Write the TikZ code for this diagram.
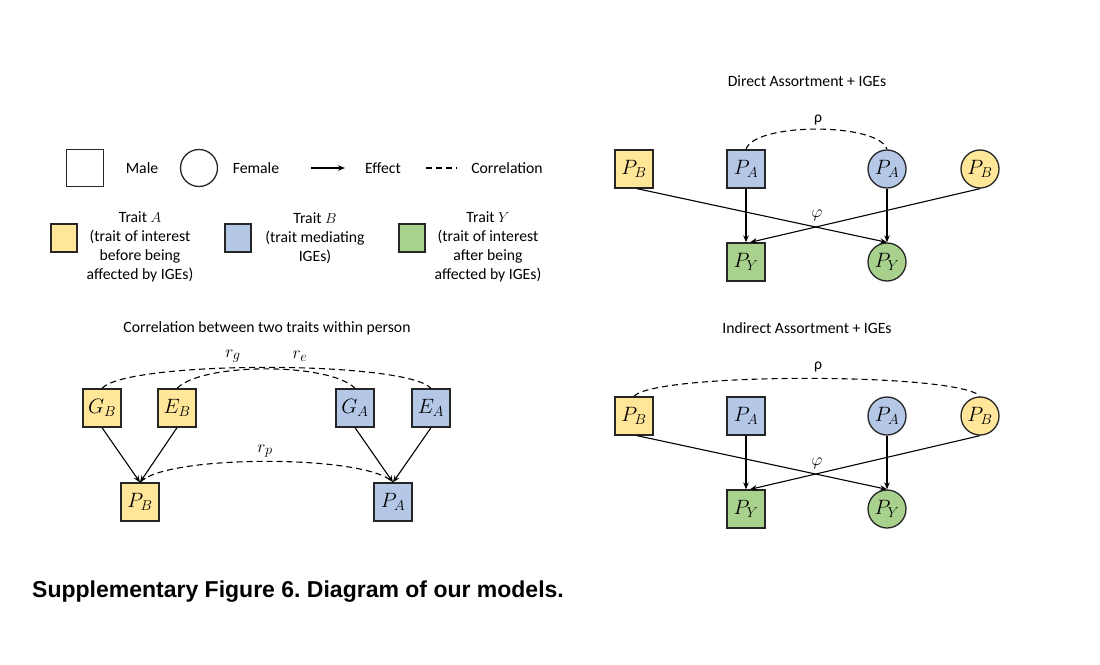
\documentclass[tikz,border=0pt]{standalone}
\usepackage{fontspec}
\setmainfont{Carlito}
\newfontfamily\capfont{Liberation Sans}
\usetikzlibrary{arrows.meta}
\definecolor{yel}{HTML}{FFE699}
\definecolor{blu}{HTML}{B4C7E7}
\definecolor{grn}{HTML}{A9D18E}
\definecolor{bord}{HTML}{262626}
\frenchspacing
\begin{document}
\begin{tikzpicture}[x=1pt,y=-1pt,
 txt/.style={font=\fontsize{15.7}{19}\selectfont, align=center, inner sep=0},
 sq/.style={draw=bord, line width=1.3pt, minimum size=38pt, inner sep=0, font=\fontsize{20}{22}\selectfont},
 ci/.style={circle, draw=bord, line width=1.3pt, minimum size=38pt, inner sep=0, font=\fontsize{20}{22}\selectfont},
 eff/.style={-{Stealth[length=7pt,width=5.5pt]}, line width=1.1pt, black},
 cor/.style={dash pattern=on 6pt off 4pt, line width=1.1pt},
 lab/.style={inner sep=0, font=\fontsize{19}{20}\selectfont},
]
\useasboundingbox (0,0) rectangle (1100,664);
\fill[white] (0,0) rectangle (1100,664);

% legend
\node[sq, minimum size=37pt] (lm) at (85,168) {};
\node[txt] (tm) at (142,168) {Male};
\node[ci, minimum size=37pt] (lf) at (199,168) {};
\node[txt] (tf) at (256,168) {Female};
\coordinate (ea) at (311,168); \coordinate (eb) at (345,168);
\draw[eff] (ea) -- (eb);
\node[txt] (te) at (383,168) {Effect};
\coordinate (ca) at (426,168); \coordinate (cb) at (457,168);
\draw[cor] (ca) -- (cb);
\node[txt] (tc) at (507,168) {Correlation};

\node[sq, fill=yel, minimum width=26pt, minimum height=28pt] (ly) at (64,238) {};
\node[txt] (tly) at (140,247) {Trait $A$\\(trait of interest\\before being\\affected by IGEs)};
\node[sq, fill=blu, minimum width=26pt, minimum height=28pt] (lb) at (238,238) {};
\node[txt] (tlb) at (315,238) {Trait $B$\\(trait mediating\\IGEs)};
\node[sq, fill=grn, minimum width=26pt, minimum height=28pt] (lg) at (412,238) {};
\node[txt] (tlg) at (488,247) {Trait $Y$\\(trait of interest\\after being\\affected by IGEs)};

% direct assortment
\node[txt] (t1) at (807,81) {Direct Assortment + IGEs};
\node[sq, fill=yel] (d1) at (634,169) {$P_B$};
\node[sq, fill=blu] (d2) at (746,169) {$P_A$};
\node[ci, fill=blu] (d3) at (887,169) {$P_A$};
\node[ci, fill=yel] (d4) at (980,169) {$P_B$};
\node[sq, fill=grn] (d5) at (746,262) {$P_Y$};
\node[ci, fill=grn] (d6) at (887,262) {$P_Y$};
\draw[eff] (d2) -- (d5);
\draw[eff] (d3) -- (d6);
\draw[eff] ([xshift=3pt]d1.south) -- (d6.north);
\draw[eff] (d4.south) -- ([xshift=4pt]d5.north);
\draw[cor] (d2.north) .. controls +(8,-27) and +(-8,-27) .. (d3.north);
\node[txt] (rho1) at (818,120) {ρ};
\node[lab] (phi1) at (817,215) {$\varphi$};

% indirect assortment
\node[txt] (t2) at (807,328) {Indirect Assortment + IGEs};
\node[sq, fill=yel] (i1) at (634,416) {$P_B$};
\node[sq, fill=blu] (i2) at (746,416) {$P_A$};
\node[ci, fill=blu] (i3) at (887,416) {$P_A$};
\node[ci, fill=yel] (i4) at (980,416) {$P_B$};
\node[sq, fill=grn] (i5) at (746,509) {$P_Y$};
\node[ci, fill=grn] (i6) at (887,509) {$P_Y$};
\draw[eff] (i2) -- (i5);
\draw[eff] (i3) -- (i6);
\draw[eff] ([xshift=3pt]i1.south) -- (i6.north);
\draw[eff] (i4.south) -- ([xshift=4pt]i5.north);
\draw[cor] (i1.north) .. controls +(20,-24) and +(-20,-24) .. (i4.north);
\node[txt] (rho2) at (818,367) {ρ};
\node[lab] (phi2) at (817,463) {$\varphi$};

% correlation within person
\node[txt] (t3) at (267,328) {Correlation between two traits within person};
\node[sq, fill=yel] (gb) at (102,408) {$G_B$};
\node[sq, fill=yel] (eb2) at (177,408) {$E_B$};
\node[sq, fill=blu] (ga) at (355,408) {$G_A$};
\node[sq, fill=blu] (ea2) at (431,408) {$E_A$};
\node[sq, fill=yel] (pb) at (140,502) {$P_B$};
\node[sq, fill=blu] (pa) at (393,502) {$P_A$};
\draw[eff] (gb.south) -- (pb.north);
\draw[eff] (eb2.south) -- (pb.north);
\draw[eff] (ga.south) -- (pa.north);
\draw[eff] (ea2.south) -- (pa.north);
\draw[cor] (gb.north) .. controls +(25,-28) and +(-25,-28) .. (ea2.north);
\draw[cor] (eb2.north) .. controls +(25,-26) and +(-25,-26) .. (ga.north);
\draw[cor] (pb.north) .. controls +(25,-28) and +(-25,-28) .. (pa.north);
\node[lab] (rg) at (233,356) {$r_g$};
\node[lab] (re) at (300,356) {$r_e$};
\node[lab] (rp) at (265,451) {$r_p$};

\node[anchor=west, inner sep=0, font=\capfont\bfseries\fontsize{23}{26}\selectfont] (cap) at (32,592) {Supplementary Figure 6. Diagram of our models.};
\end{tikzpicture}
\end{document}
